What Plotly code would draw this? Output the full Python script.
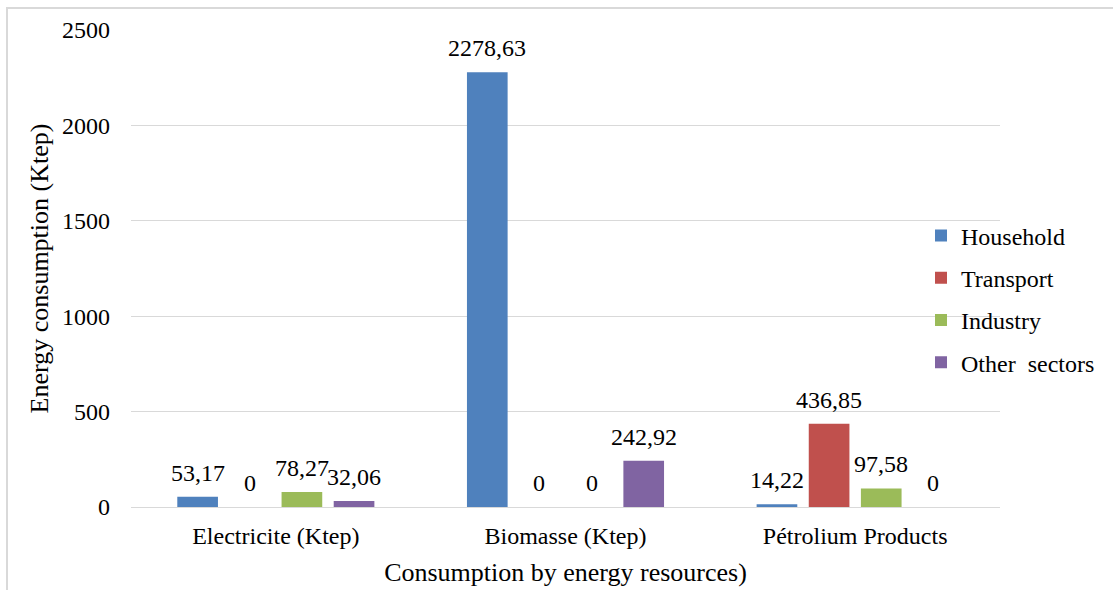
import plotly.graph_objects as go

# Energy consumption (Ktep) by resource and sector
categories = ["Electricite (Ktep)", "Biomasse (Ktep)", "Pétrolium Products"]
sectors = ["Household", "Transport", "Industry", "Other  sectors"]
household = [53.17, 2278.63, 14.22]
transport = [0, 0, 436.85]
industry = [78.27, 0, 97.58]
other_sectors = [32.06, 242.92, 0]
y_ticks = [0, 500, 1000, 1500, 2000, 2500]

series = [household, transport, industry, other_sectors]
colors = ["#4f81bd", "#c0504d", "#9bbb59", "#8064a2"]

FONT = "Liberation Serif"
W, H = 1113, 590
ML, MR, MT, MB = 131, 113, 30, 83
PW = W - ML - MR
PH = H - MT - MB
BARGAP = 0.28
GROUPGAP = 0.22


def fmt(v):
    s = f"{v:.2f}".rstrip("0").rstrip(".")
    return s.replace(".", ",")


fig = go.Figure()
for name, vals, col in zip(sectors, series, colors):
    fig.add_trace(go.Bar(
        name=name, x=categories, y=vals,
        marker=dict(color=col, line=dict(width=0)),
        legendgroup=name,
    ))

# value labels above each bar, offset within the group like the bars
slot = PW / len(categories) * (1 - BARGAP) / len(sectors)
annotations = []
for i, vals in enumerate(series):
    dx = (i - (len(sectors) - 1) / 2) * slot
    for c, v in zip(categories, vals):
        annotations.append(dict(
            x=c, y=v, xref="x", yref="y", text=fmt(v), showarrow=False,
            xshift=dx, yshift=24, yanchor="middle",
            font=dict(family=FONT, size=24, color="#000000"),
        ))

# frame lines around the chart area (top and left)
def px_to_paper_x(px):
    return (px - ML) / PW


def px_to_paper_y(py):
    return (H - MB - py) / PH


frame = dict(color="#d9d9d9", width=2)
shapes = [
    dict(type="line", xref="paper", yref="paper",
         x0=px_to_paper_x(7), x1=px_to_paper_x(W), y0=px_to_paper_y(8), y1=px_to_paper_y(8), line=frame),
    dict(type="line", xref="paper", yref="paper",
         x0=px_to_paper_x(7), x1=px_to_paper_x(7), y0=px_to_paper_y(7), y1=px_to_paper_y(H), line=frame),
]

fig.update_layout(
    width=W, height=H,
    margin=dict(l=ML, r=MR, t=MT, b=MB, pad=0, autoexpand=False),
    paper_bgcolor="white", plot_bgcolor="white",
    barmode="group", bargap=BARGAP, bargroupgap=GROUPGAP,
    font=dict(family=FONT, size=24, color="#000000"),
    annotations=annotations,
    shapes=shapes,
    legend=dict(
        x=px_to_paper_x(921), xanchor="left",
        y=px_to_paper_y(299), yanchor="middle",
        font=dict(family=FONT, size=24, color="#000000"),
        traceorder="grouped", tracegroupgap=8,
        bgcolor="rgba(0,0,0,0)",
    ),
    showlegend=True,
)

fig.update_yaxes(
    range=[0, 2500], tickvals=y_ticks, automargin=False,
    showgrid=True, gridcolor="#d9d9d9", gridwidth=1,
    zeroline=True, zerolinecolor="#d9d9d9", zerolinewidth=1,
    showline=False, ticks="", ticklabelstandoff=20,
    tickfont=dict(family=FONT, size=24, color="#000000"),
    title=dict(text="Energy consumption (Ktep)", standoff=5,
               font=dict(family=FONT, size=26, color="#000000")),
)
fig.update_xaxes(
    automargin=False,
    showgrid=False, showline=False, ticks="", ticklabelstandoff=12,
    tickfont=dict(family=FONT, size=24, color="#000000"),
    title=dict(text="Consumption by energy resources)", standoff=14,
               font=dict(family=FONT, size=26, color="#000000")),
)

fig.write_html("out.html")
